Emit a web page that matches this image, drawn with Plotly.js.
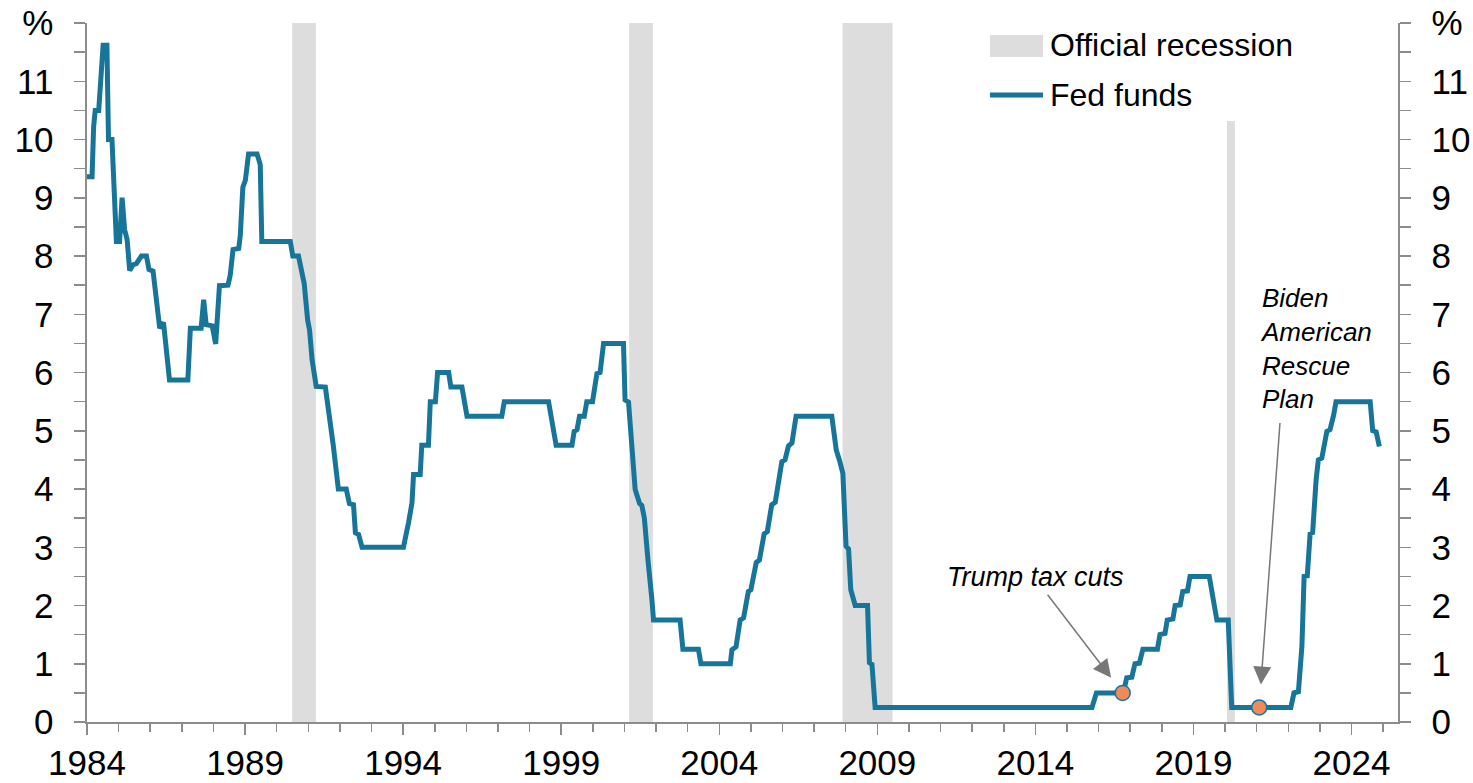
<!DOCTYPE html>
<html>
<head>
<meta charset="utf-8">
<script src="https://cdn.plot.ly/plotly-3.0.1.min.js"></script>
<style>
  html, body { margin: 0; padding: 0; background: #ffffff; }
  #chart { width: 1473px; height: 783px; }
</style>
</head>
<body>
<div id="chart"></div>
<script>
// Fed funds rate turning points: decimal year and rate (%)
const rateYears = [
  1984.00, 1984.16, 1984.21, 1984.26, 1984.37, 1984.51, 1984.63, 1984.68, 1984.79, 1984.93,
  1985.03, 1985.11, 1985.19, 1985.27, 1985.35, 1985.46, 1985.56, 1985.72, 1985.88, 1985.96,
  1986.09, 1986.30, 1986.42, 1986.61, 1987.19, 1987.27, 1987.61, 1987.69, 1987.77, 1987.96,
  1988.07, 1988.19, 1988.46, 1988.53, 1988.62, 1988.80, 1988.85, 1988.93, 1989.01, 1989.11,
  1989.38, 1989.48, 1989.53, 1990.43, 1990.51, 1990.69, 1990.87, 1990.98, 1991.04, 1991.12,
  1991.25, 1991.54, 1991.79, 1991.95, 1992.20, 1992.30, 1992.43, 1992.49, 1992.59, 1992.70,
  1994.01, 1994.17, 1994.28, 1994.33, 1994.54, 1994.59, 1994.80, 1994.86, 1995.02, 1995.09,
  1995.44, 1995.51, 1995.86, 1996.02, 1997.12, 1997.20, 1998.60, 1998.84, 1999.34, 1999.41,
  1999.50, 1999.58, 1999.73, 1999.81, 1999.99, 2000.13, 2000.23, 2000.34, 2000.97, 2001.02,
  2001.13, 2001.34, 2001.48, 2001.55, 2001.63, 2001.75, 2001.87, 2001.92, 2002.76, 2002.85,
  2003.34, 2003.42, 2004.35, 2004.40, 2004.53, 2004.66, 2004.77, 2004.92, 2005.00, 2005.17,
  2005.27, 2005.42, 2005.52, 2005.66, 2005.77, 2005.98, 2006.08, 2006.19, 2006.30, 2006.43,
  2007.56, 2007.70, 2007.80, 2007.91, 2008.01, 2008.09, 2008.16, 2008.30, 2008.69, 2008.75,
  2008.83, 2008.93, 2015.79, 2015.93, 2016.78, 2016.89, 2017.05, 2017.15, 2017.29, 2017.40,
  2017.86, 2017.94, 2018.10, 2018.17, 2018.35, 2018.42, 2018.58, 2018.66, 2018.81, 2018.89,
  2019.50, 2019.74, 2020.10, 2020.21, 2022.08, 2022.18, 2022.32, 2022.43, 2022.50, 2022.60,
  2022.69, 2022.77, 2022.88, 2022.95, 2023.06, 2023.22, 2023.32, 2023.43, 2023.51, 2024.59,
  2024.67, 2024.78, 2024.88
];
const rateValues = [
  9.36, 9.36, 10.22, 10.5, 10.5, 11.62, 11.62, 10.0, 10.0, 8.25,
  8.25, 9.0, 8.45, 8.28, 7.75, 7.85, 7.87, 8.0, 8.0, 7.77,
  7.74, 6.76, 6.86, 5.87, 5.87, 6.76, 6.76, 7.25, 6.82, 6.8,
  6.49, 7.49, 7.5, 7.67, 8.11, 8.13, 8.36, 9.18, 9.3, 9.75,
  9.75, 9.57, 8.25, 8.25, 8.0, 8.0, 7.53, 6.9, 6.73, 6.22,
  5.76, 5.75, 4.75, 4.0, 4.0, 3.75, 3.73, 3.25, 3.22, 3.0,
  3.0, 3.42, 3.76, 4.25, 4.25, 4.75, 4.75, 5.5, 5.5, 6.0,
  6.0, 5.75, 5.75, 5.25, 5.25, 5.5, 5.5, 4.75, 4.75, 4.99,
  5.02, 5.25, 5.25, 5.5, 5.5, 5.98, 6.0, 6.5, 6.5, 5.53,
  5.49, 3.99, 3.75, 3.72, 3.5, 2.75, 2.1, 1.75, 1.75, 1.25,
  1.25, 1.0, 1.0, 1.24, 1.29, 1.75, 1.79, 2.24, 2.27, 2.74,
  2.78, 3.23, 3.27, 3.73, 3.77, 4.47, 4.5, 4.74, 4.79, 5.25,
  5.25, 4.67, 4.5, 4.27, 3.02, 2.97, 2.27, 2.0, 2.0, 1.02,
  0.99, 0.25, 0.25, 0.5, 0.5, 0.76, 0.77, 1.0, 1.01, 1.25,
  1.25, 1.5, 1.52, 1.75, 1.77, 2.0, 2.01, 2.24, 2.25, 2.5,
  2.5, 1.75, 1.75, 0.25, 0.25, 0.5, 0.52, 1.3, 2.5, 2.51,
  3.23, 3.25, 4.16, 4.5, 4.53, 4.99, 5.02, 5.26, 5.5, 5.5,
  5.0, 4.98, 4.73
];

// Official (NBER) recessions, decimal years
const recessionStart = [1990.49, 2001.15, 2007.90, 2020.06];
const recessionEnd   = [1991.24, 2001.90, 2009.48, 2020.31];

// Policy events marked on the rate line
const eventLabels = ['Trump tax cuts', 'Biden<br>American<br>Rescue<br>Plan'];
const eventYears  = [2016.76, 2021.08];
const eventRates  = [0.5, 0.25];
// where each label and its arrow tail sit (decimal year, %)
const labelYears  = [2013.99, 2021.04];
const labelRates  = [2.49, 6.41];
const tailYears   = [2014.35, 2021.74];
const tailRates   = [2.21, 5.16];

// Axis ticks
const yearTicks = [1984, 1989, 1994, 1999, 2004, 2009, 2014, 2019, 2024];
const pctTicks  = [0, 1, 2, 3, 4, 5, 6, 7, 8, 9, 10, 11, 12];
const pctLabels = ['0', '1', '2', '3', '4', '5', '6', '7', '8', '9', '10', '11', '%'];

const seriesNames = ['Official recession', 'Fed funds'];

const TEAL = '#17759a';
const GREY_SHADE = '#dddddd';
const AXIS_GREY = '#8c8c8c';
const ARROW_GREY = '#777777';
const FONT = 'Liberation Sans, Arial, sans-serif';

const fedTrace = {
  type: 'scatter', mode: 'lines',
  x: rateYears, y: rateValues,
  xaxis: 'x', yaxis: 'y',
  line: { color: TEAL, width: 5, shape: 'linear', simplify: false },
  name: seriesNames[1], showlegend: false, hoverinfo: 'x+y'
};

const eventTrace = {
  type: 'scatter', mode: 'markers',
  x: eventYears, y: eventRates,
  xaxis: 'x', yaxis: 'y2',
  marker: { size: 15, color: '#f08a5d', line: { color: TEAL, width: 1.5 } },
  showlegend: false, hoverinfo: 'x+y'
};

// recession shading
const shapes = recessionStart.map((s, i) => ({
  type: 'rect', layer: 'below',
  xref: 'x', yref: 'paper',
  x0: s, x1: recessionEnd[i], y0: 0, y1: 1,
  fillcolor: GREY_SHADE, line: { width: 0 }
}));

// legend block (white panel over the plot, swatches)
const legendBox = { x0: 0.6774, x1: 0.9291, y0: 0.8598, y1: 1.0 };
shapes.push({
  type: 'rect', layer: 'below', xref: 'paper', yref: 'paper',
  x0: legendBox.x0, x1: legendBox.x1, y0: legendBox.y0, y1: legendBox.y1,
  fillcolor: '#ffffff', line: { width: 0 }
});
shapes.push({
  type: 'rect', layer: 'above', xref: 'paper', yref: 'paper',
  x0: 0.6888, x1: 0.7292, y0: 0.9514, y1: 0.9828,
  fillcolor: GREY_SHADE, line: { width: 0 }
});
shapes.push({
  type: 'line', layer: 'above', xref: 'paper', yref: 'paper',
  x0: 0.6888, x1: 0.7292, y0: 0.8970, y1: 0.8970,
  line: { color: TEAL, width: 5 }
});

const annotations = [
  {
    xref: 'paper', yref: 'paper', x: 0.7330, y: 0.9685,
    xanchor: 'left', yanchor: 'middle', showarrow: false,
    text: seriesNames[0], font: { family: FONT, size: 32, color: '#000000' }
  },
  {
    xref: 'paper', yref: 'paper', x: 0.7330, y: 0.8970,
    xanchor: 'left', yanchor: 'middle', showarrow: false,
    text: seriesNames[1], font: { family: FONT, size: 32, color: '#000000' }
  }
];

eventLabels.forEach((label, i) => {
  annotations.push({
    xref: 'x', yref: 'y', x: labelYears[i], y: labelRates[i],
    xanchor: i === 0 ? 'center' : 'left', yanchor: 'middle', align: i === 0 ? 'center' : 'left',
    showarrow: false, text: '<i>' + label + '</i>',
    font: { family: FONT, size: i === 0 ? 27 : 26, color: '#000000' }
  });
  annotations.push({
    xref: 'x', yref: 'y', x: eventYears[i], y: eventRates[i],
    axref: 'x', ayref: 'y', ax: tailYears[i], ay: tailRates[i],
    text: '', showarrow: true,
    arrowhead: 2, arrowsize: 2.4, arrowwidth: 1.5, arrowcolor: ARROW_GREY,
    standoff: i === 0 ? 19 : 23
  });
});

const tickFont = { family: FONT, size: 35, color: '#000000' };

const yCommon = {
  range: [0, 12], fixedrange: true,
  tickmode: 'array', tickvals: pctTicks, ticktext: pctLabels,
  ticks: 'outside', ticklen: 11, tickwidth: 1.5, tickcolor: AXIS_GREY,
  minor: { tickmode: 'linear', tick0: 0, dtick: 0.5, ticks: 'outside', ticklen: 11, tickwidth: 1.5, tickcolor: AXIS_GREY, showgrid: false },
  showline: true, linecolor: AXIS_GREY, linewidth: 1.6,
  showgrid: false, zeroline: false,
  tickfont: tickFont, ticklabelstandoff: 14
};

const layout = {
  width: 1473, height: 783,
  margin: { l: 87, r: 75, t: 23, b: 61, pad: 0 },
  paper_bgcolor: '#ffffff', plot_bgcolor: 'rgba(0,0,0,0)',
  showlegend: false,
  xaxis: {
    range: [1984, 2025.47], fixedrange: true,
    tickmode: 'array', tickvals: yearTicks,
    ticks: 'outside', ticklen: 11, tickwidth: 1.5, tickcolor: AXIS_GREY,
    minor: { tickmode: 'linear', tick0: 1984, dtick: 1, ticks: 'outside', ticklen: 8, tickwidth: 1.5, tickcolor: AXIS_GREY, showgrid: false },
    showline: true, linecolor: AXIS_GREY, linewidth: 1.6,
    showgrid: false, zeroline: false,
    tickfont: tickFont, ticklabelstandoff: -2
  },
  yaxis: Object.assign({}, yCommon, { side: 'left' }),
  yaxis2: Object.assign({}, yCommon, { side: 'right', overlaying: 'y', anchor: 'x' }),
  shapes: shapes,
  annotations: annotations
};

Plotly.newPlot('chart', [fedTrace, eventTrace], layout, { displayModeBar: false, staticPlot: true });
</script>
</body>
</html>
